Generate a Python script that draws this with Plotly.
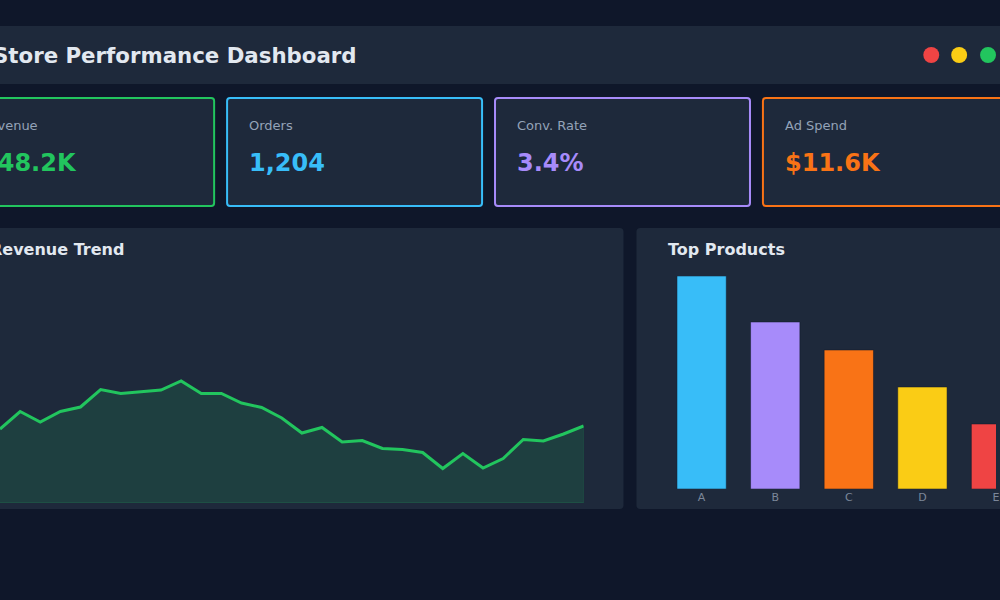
import plotly.graph_objects as go

# ---- data ----
kpi_labels = ["Revenue", "Orders", "Conv. Rate", "Ad Spend"]
kpi_values = ["$48.2K", "1,204", "3.4%", "$11.6K"]
kpi_colors = ["#22c55e", "#38bdf8", "#a78bfa", "#f97316"]

days = list(range(1, 31))
revenue = [1480, 1830, 1620, 1830, 1920, 2270, 2190, 2220, 2260, 2440,
           2190, 2190, 2000, 1910, 1700, 1400, 1510, 1220, 1250, 1090,
           1070, 1010, 690, 990, 700, 890, 1270, 1240, 1380, 1540]

products = ["A", "B", "C", "D", "E"]
units_sold = [426, 334, 278, 204, 130]
product_colors = ["#38bdf8", "#a78bfa", "#f97316", "#facc15", "#ef4444"]

BG = "#0f172a"
PANEL = "#1e293b"
FONT = "DejaVu Sans"
W, H = 1000, 600


def px(x):
    return x / W


def py(y):
    return 1 - y / H


def rounded_rect(x0, y0, x1, y1, r):
    """SVG path for a rounded rectangle in paper coords (pixel input)."""
    a, b = px(x0), py(y0)
    c, d = px(x1), py(y1)
    rx, ry = r / W, r / H
    return (f"M{a + rx},{b} L{c - rx},{b} Q{c},{b} {c},{b - ry} "
            f"L{c},{d + ry} Q{c},{d} {c - rx},{d} L{a + rx},{d} "
            f"Q{a},{d} {a},{d + ry} L{a},{b - ry} Q{a},{b} {a + rx},{b} Z")


def label(text, x, y, size, color):
    # annotations add ~2px of padding, so pull them left a bit
    return dict(text=text, x=px(x - 2), y=py(y), xref="paper", yref="paper",
                xanchor="left", yanchor="middle", showarrow=False,
                font=dict(size=size, color=color, family=FONT))


fig = go.Figure()

# revenue trend: filled area with faint outline, then the line
fig.add_trace(
    go.Scatter(
        x=days + [days[-1], days[0]],
        y=revenue + [0, 0],
        mode="lines",
        fill="toself",
        fillcolor="rgba(34,197,94,0.15)",
        line=dict(color="rgba(34,197,94,0.25)", width=1),
        hoverinfo="skip",
        xaxis="x",
        yaxis="y",
    )
)
fig.add_trace(
    go.Scatter(
        x=days,
        y=revenue,
        mode="lines",
        line=dict(color="#22c55e", width=3),
        xaxis="x",
        yaxis="y",
    )
)

# top products bars
fig.add_trace(
    go.Bar(
        x=products,
        y=units_sold,
        marker=dict(color=product_colors, line=dict(color="rgba(15,23,42,0.5)", width=1)),
        xaxis="x2",
        yaxis="y2",
    )
)

shapes = []
annotations = []

# header bar
shapes.append(dict(type="path", path=rounded_rect(-41, 26, 1022, 84, 4),
                   xref="paper", yref="paper", fillcolor=PANEL, line_width=0, layer="below"))
annotations.append(label("<b>Store Performance Dashboard</b>", -7, 55, 21.3, "#e2e8f0"))
for cx, col in zip([935, 963, 992], ["#ef4444", "#facc15", "#22c55e"]):
    shapes.append(dict(type="circle", xref="paper", yref="paper",
                       x0=px(cx - 8), x1=px(cx + 8), y0=py(55 + 8), y1=py(55 - 8),
                       fillcolor=col, line_width=0))

# kpi cards
card_w, card_gap = 256, 13
for i, (lab, val, col) in enumerate(zip(kpi_labels, kpi_values, kpi_colors)):
    left = -41 + i * (card_w + card_gap)
    shapes.append(dict(type="path", path=rounded_rect(left, 98, left + card_w, 206, 3),
                       xref="paper", yref="paper", fillcolor=PANEL,
                       line=dict(color=col, width=2), layer="below"))
    annotations.append(label(lab, left + 22, 125, 13, "#94a3b8"))
    annotations.append(label(f"<b>{val}</b>", left + 22, 163, 24, col))

# chart panels
shapes.append(dict(type="path", path=rounded_rect(-41, 228, 626, 509, 4),
                   xref="paper", yref="paper", fillcolor=PANEL, line_width=0, layer="below"))
shapes.append(dict(type="path", path=rounded_rect(639, 228, 1022, 509, 4),
                   xref="paper", yref="paper", fillcolor=PANEL, line_width=0, layer="below"))
annotations.append(label("<b>Revenue Trend</b>", -10, 249, 16, "#e2e8f0"))
annotations.append(label("<b>Top Products</b>", 671, 249, 16, "#e2e8f0"))

hidden = dict(showgrid=False, zeroline=False, showticklabels=False, showline=False, ticks="")

fig.update_layout(
    width=W,
    height=H,
    margin=dict(l=0, r=0, t=0, b=0),
    paper_bgcolor=BG,
    plot_bgcolor="rgba(0,0,0,0)",
    showlegend=False,
    font=dict(family=FONT),
    shapes=shapes,
    annotations=annotations,
    bargap=0.33,
    xaxis=dict(domain=[0, px(586)], range=[days[0], days[-1]], **hidden),
    yaxis=dict(domain=[py(503), py(270)], range=[0, 4660], **hidden),
    xaxis2=dict(domain=[px(667.5), 1.0], range=[-0.5, 4.0], anchor="y2",
                showgrid=False, zeroline=False, showline=False, ticks="",
                tickfont=dict(size=11, color="#7b8799", family=FONT)),
    yaxis2=dict(domain=[py(489), py(276)], range=[0, units_sold[0]], anchor="x2", **hidden),
)

# the page's default body margin would shift the figure by 8px
fig.write_html("out.html", config={"displayModeBar": False},
               post_script="document.body.style.margin='0';")
